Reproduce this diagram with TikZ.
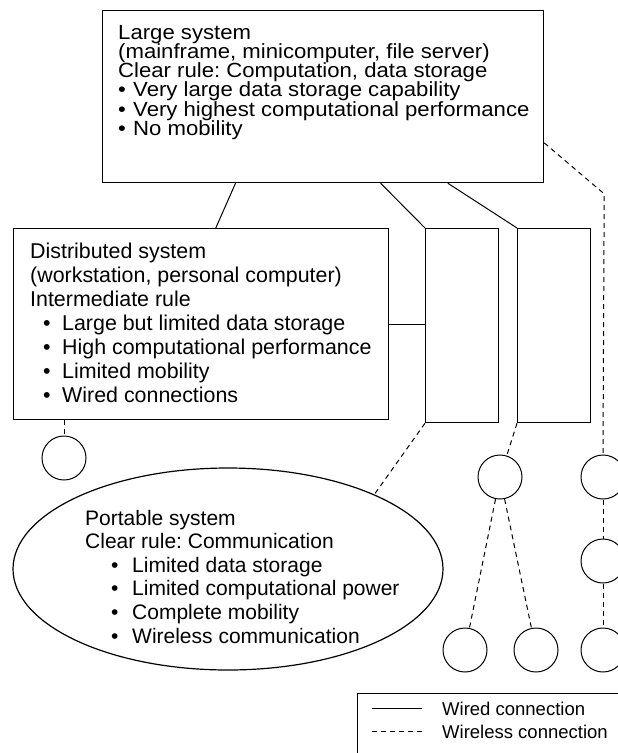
\documentclass[tikz,border=0pt]{standalone}
\usepackage{fontspec}
\setmainfont{Liberation Sans}
\newfontfamily\widefont{Liberation Sans}[FakeStretch=1.08]
\usetikzlibrary{shapes.geometric,calc}
\frenchspacing

\newcommand{\itm}[2]{\hspace*{#1}\makebox[#2][l]{\textbullet}}
\newcommand{\tightfont}[2]{\fontsize{#1}{#2}\selectfont\lineskiplimit=-30pt\relax}

\tikzset{
  sysbox/.style={draw, line width=1.2pt, inner sep=0pt, anchor=north west},
  station/.style={draw, circle, line width=1pt, minimum size=44pt, inner sep=0pt},
  boxtext/.style={anchor=north west, inner sep=0pt, align=left},
  wired/.style={line width=1pt},
  wireless/.style={line width=1pt, dash pattern=on 5pt off 4pt}
}

\begin{document}
\begin{tikzpicture}[x=1pt,y=-1pt]
\useasboundingbox (0,0) rectangle (618,753);
\clip (0,0) rectangle (618,753);

% systems
\node [sysbox, minimum width=441pt, minimum height=172pt] (large) at (102,10) {};
\node [sysbox, minimum width=375pt, minimum height=191pt] (dist) at (13,228) {};
\node [sysbox, minimum width=73pt, minimum height=194pt] (srvA) at (425,228) {};
\node [sysbox, minimum width=73pt, minimum height=194pt] (srvB) at (517,228) {};
\node [draw, ellipse, line width=1.2pt, inner sep=0pt,
       minimum width=430pt, minimum height=202pt] (portable) at (228,569) {};

\node [boxtext, font=\widefont\tightfont{20.5}{19.2}] (largetxt) at (118,25) {Large system\\
  (mainframe, minicomputer, file server)\\
  Clear rule: Computation, data storage\\
  \itm{0pt}{15pt}Very large data storage capability\\
  \itm{0pt}{15pt}Very highest computational performance\\
  \itm{0pt}{15pt}No mobility};
\node [boxtext, font=\tightfont{21.4}{24}] (disttxt) at (30,242.5) {Distributed system\\
  (workstation, personal computer)\\
  Intermediate rule\\
  \itm{13pt}{19pt}Large but limited data storage\\
  \itm{13pt}{19pt}High computational performance\\
  \itm{13pt}{19pt}Limited mobility\\
  \itm{13pt}{19pt}Wired connections};
\node [boxtext, font=\tightfont{21}{23.6}] (porttxt) at (85,509.7) {Portable system\\
  Clear rule: Communication\\
  \itm{26pt}{21pt}Limited data storage\\
  \itm{26pt}{21pt}Limited computational power\\
  \itm{26pt}{21pt}Complete mobility\\
  \itm{26pt}{21pt}Wireless communication};

% stations
\node [station] (ws) at (64,458) {};
\node [station] (mobA) at (500,477) {};
\node [station] (mobB) at (465,650) {};
\node [station] (mobC) at (536,650) {};
\node [station] (mobD) at (603,477) {};
\node [station] (mobE) at (603,561) {};
\node [station] (mobF) at (603,650) {};

% wired links
\draw [wired] ($(large.south west)!0.302!(large.south east)$) -- ($(dist.north west)!0.539!(dist.north east)$);
\draw [wired] ($(large.south west)!0.63!(large.south east)$) -- (srvA.north west);
\draw [wired] ($(large.south west)!0.782!(large.south east)$) -- (srvB.north west);
\draw [wired] (dist.east) -- (dist.east -| srvA.west);

% wireless links
\draw [wireless] (dist.south -| ws.north) -- (ws.north);
\draw [wireless] (srvA.south west) -- (portable.27);
\draw [wireless] (srvB.south west) -- (mobA);
\draw [wireless] (mobA) -- (mobB);
\draw [wireless] (mobA) -- (mobC);
\draw [wireless] ($(large.north east)!0.767!(large.south east)$) -- ++(60,51) -- (mobD.north);
\draw [wireless] (mobD) -- (mobE);
\draw [wireless] (mobE) -- (mobF);

% legend
\node [sysbox, line width=1pt, minimum width=300pt, minimum height=90pt] (legend) at (357,693) {};
\node [anchor=base west, inner sep=0pt, font=\fontsize{18.5}{22}\selectfont] (wiredlbl) at (442,715) {Wired connection};
\node [anchor=base west, inner sep=0pt, font=\fontsize{18.5}{22}\selectfont] (wirelesslbl) at (442,738) {Wireless connection};
\draw [wired] ([xshift=-20pt]wiredlbl.west) -- ++(-50,0);
\draw [wireless] ([xshift=-20pt]wirelesslbl.west) -- ++(-50,0);
\end{tikzpicture}
\end{document}
